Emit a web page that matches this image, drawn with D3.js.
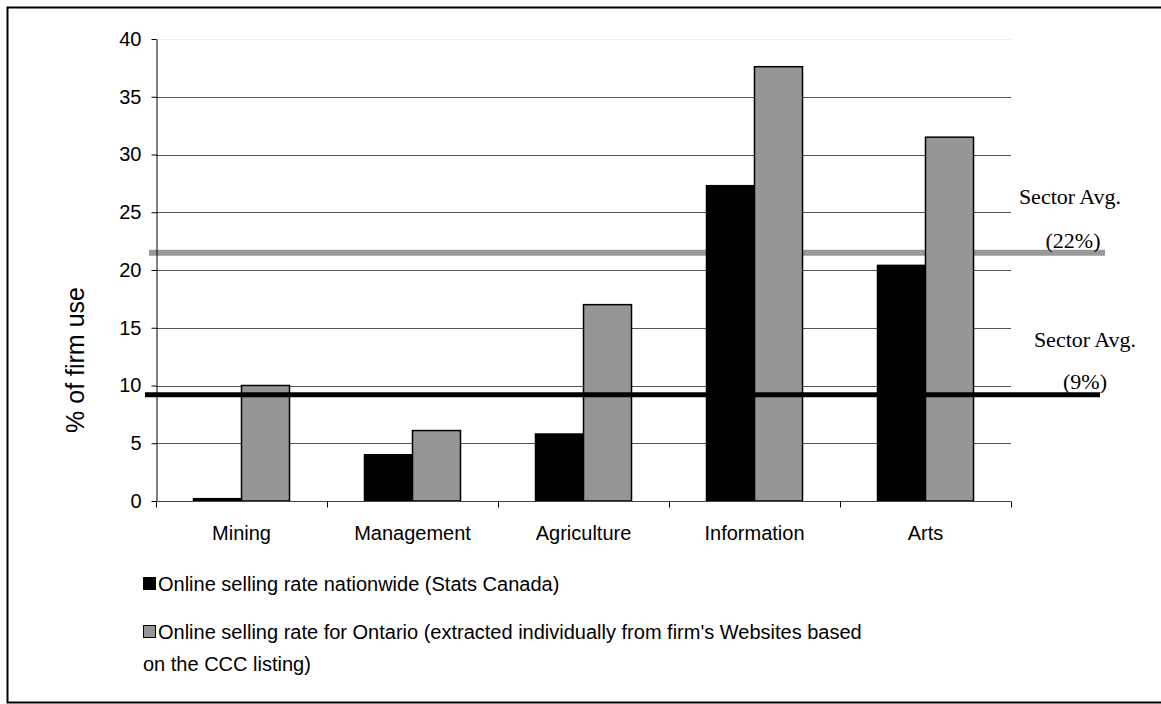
<!DOCTYPE html>
<html>
<head>
<meta charset="utf-8">
<script src="https://cdn.jsdelivr.net/npm/d3@7"></script>
<style>
  html, body { margin: 0; padding: 0; background: #fff; }
  svg { display: block; }
</style>
</head>
<body>
<svg id="chart" width="1161" height="704"></svg>
<script>
// Sectors on the horizontal axis
const categories = ["Mining", "Management", "Agriculture", "Information", "Arts"];
// Online selling rate nationwide (Stats Canada), % of firms
const nationwide = [0.2, 4.0, 5.8, 27.3, 20.4];
// Online selling rate for Ontario, % of firms
const ontario = [10.0, 6.1, 17.0, 37.6, 31.5];
// Sector averages drawn as horizontal reference lines
const avgOntario = 21.5;
const avgNationwide = 9.2;
const yTicks = [0, 5, 10, 15, 20, 25, 30, 35, 40];
const seriesNames = [
  "Online selling rate nationwide (Stats Canada)",
  "Online selling rate for Ontario (extracted individually from firm's Websites based|on the CCC listing)"
];

(function () {
const svg = d3.select("#chart");
const plotLeft = 156, plotRight = 1011, plotTop = 39, plotBottom = 501;
const sans = "Liberation Sans, Arial, sans-serif";
const serif = "Liberation Serif, Times New Roman, serif";

const x = d3.scaleBand().domain(categories).range([plotLeft, plotRight]).padding(0);
const barW = 48;
const xs = d3.scaleBand().domain(["nat", "ont"]).range([-barW, barW]).padding(0);
const y = d3.scaleLinear().domain([0, 40]).range([plotBottom, plotTop]);

// outer frame
svg.append("rect")
  .attr("x", 7.5).attr("y", 7.5).attr("width", 1170).attr("height", 695)
  .attr("fill", "none").attr("stroke", "#000").attr("stroke-width", 2);

// horizontal gridlines
svg.append("g").selectAll("line")
  .data(yTicks.filter(d => d > 0))
  .join("line")
  .attr("x1", plotLeft).attr("x2", plotRight)
  .attr("y1", d => Math.round(y(d)) + 0.5).attr("y2", d => Math.round(y(d)) + 0.5)
  .attr("stroke", d => d === 40 ? "#eeeeee" : "#555")
  .attr("stroke-width", 1);

// Ontario sector average (behind the bars)
svg.append("line")
  .attr("x1", 149).attr("x2", 1105)
  .attr("y1", y(avgOntario)).attr("y2", y(avgOntario))
  .attr("stroke", "#999").attr("stroke-width", 6);

// bars
const groups = svg.append("g").selectAll("g")
  .data(categories)
  .join("g")
  .attr("transform", d => `translate(${x(d) + x.bandwidth() / 2},0)`);

groups.append("rect")
  .attr("x", xs("nat"))
  .attr("width", xs.bandwidth())
  .attr("y", (d, i) => y(nationwide[i]))
  .attr("height", (d, i) => y(0) - y(nationwide[i]))
  .attr("fill", "#000").attr("stroke", "#000").attr("stroke-width", 1.5);

groups.append("rect")
  .attr("x", xs("ont"))
  .attr("width", xs.bandwidth())
  .attr("y", (d, i) => y(ontario[i]))
  .attr("height", (d, i) => y(0) - y(ontario[i]))
  .attr("fill", "#969696").attr("stroke", "#000").attr("stroke-width", 1.5);

// nationwide sector average (over the bars)
svg.append("line")
  .attr("x1", 145).attr("x2", 1100)
  .attr("y1", y(avgNationwide)).attr("y2", y(avgNationwide))
  .attr("stroke", "#000").attr("stroke-width", 5);

// y axis
const yAxis = svg.append("g")
  .attr("transform", `translate(${plotLeft + 0.5},0)`)
  .call(d3.axisLeft(y).tickValues(yTicks).tickSize(5).tickPadding(10).tickSizeOuter(0));
yAxis.select(".domain").attr("stroke", "#000");
yAxis.selectAll(".tick line").attr("stroke", "#000");
yAxis.selectAll("text")
  .attr("font-family", sans)
  .attr("font-size", 20).attr("fill", "#000");

// x axis with ticks between categories
const xAxisG = svg.append("g").attr("transform", `translate(0,${Math.round(plotBottom) + 0.5})`);
xAxisG.append("line").attr("x1", plotLeft).attr("x2", plotRight).attr("stroke", "#444");
xAxisG.selectAll(".tk")
  .data(categories.map(c => x(c)).concat([plotRight]))
  .join("line")
  .attr("class", "tk")
  .attr("x1", d => Math.round(d) + 0.5).attr("x2", d => Math.round(d) + 0.5)
  .attr("y1", 0).attr("y2", 6).attr("stroke", "#000");
xAxisG.selectAll(".lbl")
  .data(categories)
  .join("text")
  .attr("class", "lbl")
  .attr("x", d => x(d) + x.bandwidth() / 2)
  .attr("y", 38)
  .attr("text-anchor", "middle")
  .attr("font-family", sans)
  .attr("font-size", 20)
  .text(d => d);

// y axis title
svg.append("text")
  .attr("transform", "translate(84,360) rotate(-90)")
  .attr("text-anchor", "middle")
  .attr("font-family", sans)
  .attr("font-size", 25)
  .text("% of firm use");

// sector average labels
const avgLabels = [
  { t: "Sector Avg.", x: 1070, y: 204 },
  { t: "(22%)", x: 1073, y: 248 },
  { t: "Sector Avg.", x: 1085, y: 347 },
  { t: "(9%)", x: 1085, y: 389 }
];
svg.append("g").selectAll("text")
  .data(avgLabels)
  .join("text")
  .attr("x", d => d.x).attr("y", d => d.y)
  .attr("text-anchor", "middle")
  .attr("font-family", serif)
  .attr("font-size", 22)
  .text(d => d.t);

// legend
const legend = svg.append("g");
const legendRows = [
  { name: seriesNames[0], fill: "#000", y: 584 },
  { name: seriesNames[1], fill: "#969696", y: 632 }
];
legendRows.forEach(r => {
  legend.append("rect")
    .attr("x", 143.5).attr("y", r.y - 6.5).attr("width", 12).attr("height", 12)
    .attr("fill", r.fill).attr("stroke", "#000").attr("stroke-width", 1);
  r.name.split("|").forEach((line, i) => {
    legend.append("text")
      .attr("x", i === 0 ? 158 : 143)
      .attr("y", r.y + 7 + i * 32)
      .attr("font-family", sans)
      .attr("font-size", 20)
      .text(line);
  });
});
})();
</script>
</body>
</html>
